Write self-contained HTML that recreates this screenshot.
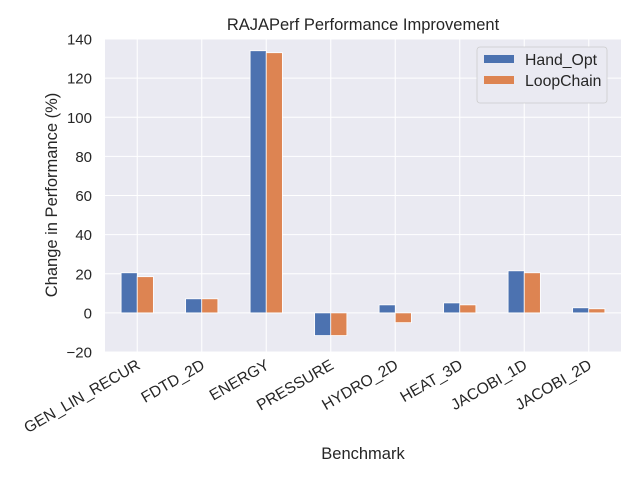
<!DOCTYPE html>
<html><head><meta charset="utf-8"><style>
body{margin:0;background:#fff;font-family:"Liberation Sans","DejaVu Sans",sans-serif}
</style></head><body>
<svg id="chart" width="640" height="480" xmlns="http://www.w3.org/2000/svg" font-family="Liberation Sans, DejaVu Sans, sans-serif">
<rect width="640" height="480" fill="#fff"/>
<rect x="105" y="39" width="516" height="313" fill="#eaeaf2"/>
<g id="grid"></g><g id="bars"></g><g id="ticks"></g>
<text x="363" y="30" text-anchor="middle" font-size="16.5" fill="#262626">RAJAPerf Performance Improvement</text>
<text x="363" y="459" text-anchor="middle" font-size="16.5" fill="#262626">Benchmark</text>
<text transform="translate(57,195) rotate(-90)" text-anchor="middle" font-size="16.5" fill="#262626">Change in Performance (%)</text>
<g>
<rect x="477" y="47" width="130" height="56" rx="3" fill="#eaeaf2" stroke="#ccc" stroke-width="0.8"/>
<rect x="484" y="55" width="30" height="8" fill="#4c72b0"/>
<text x="525" y="65" font-size="15.8" fill="#262626">Hand_Opt</text>
<rect x="484" y="76" width="30" height="8" fill="#dd8452"/>
<text x="525" y="86" font-size="15.8" fill="#262626">LoopChain</text>
</g>
</svg>
<script>
const categories=["GEN_LIN_RECUR","FDTD_2D","ENERGY","PRESSURE","HYDRO_2D","HEAT_3D","JACOBI_1D","JACOBI_2D"];
const handOpt=[20.5,7.2,134,-11.6,4.1,5.1,21.5,2.6];
const loopChain=[18.5,7.2,133,-11.6,-5,4.1,20.5,2.1];
const yTicks=[-20,0,20,40,60,80,100,120,140];
const NS="http://www.w3.org/2000/svg";
const L=105,R=621,T=39,B=352,yMin=-20,yMax=140;
const y=v=>B-(v-yMin)/(yMax-yMin)*(B-T);
const cw=(R-L)/categories.length;
const xc=i=>L+cw*(i+0.5);
function mk(tag,attrs,parent){const e=document.createElementNS(NS,tag);for(const k in attrs)e.setAttribute(k,attrs[k]);document.getElementById(parent).appendChild(e);return e;}
yTicks.forEach(t=>{
 const g=mk("line",{x1:L,x2:R,y1:y(t),y2:y(t),stroke:"#fff","stroke-width":1},"grid");
 
 
 const lb=mk("text",{x:L-13,y:y(t)+5.5,"text-anchor":"end","font-size":15,fill:"#262626"},"ticks");
 lb.textContent=(t<0?"\u2212"+(-t):t);
 
 
});
categories.forEach((c,i)=>{
 const g=mk("line",{x1:xc(i),x2:xc(i),y1:T,y2:B,stroke:"#fff","stroke-width":1},"grid");
 
 
 const bw=cw*0.25;
 [[handOpt[i],"#4c72b0",-bw,'bar-hand-opt'],[loopChain[i],"#dd8452",0,'bar-loopchain']].forEach(([v,col,off,nm])=>{
  const b=mk("rect",{x:xc(i)+off,y:Math.min(y(v),y(0)),width:bw,height:Math.abs(y(v)-y(0)),fill:col,stroke:"#fff","stroke-width":0.8},"bars");
  
  
 });
 const lb=mk("text",{transform:`translate(${xc(i)+4},${B+16}) rotate(-30)`,"text-anchor":"end","font-size":15.6,fill:"#262626"},"ticks");
 lb.textContent=c;
 
 
});
</script>
</body></html>
